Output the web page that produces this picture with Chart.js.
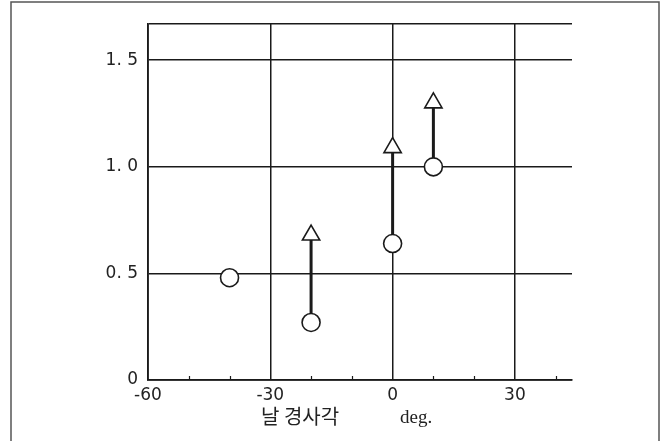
<!DOCTYPE html>
<html>
<head>
<meta charset="utf-8">
<script src="https://cdn.jsdelivr.net/npm/chart.js@4/dist/chart.umd.min.js"></script>
<style>
  html, body { margin: 0; padding: 0; background: #fff; }
  canvas { display: block; }
</style>
</head>
<body>
<canvas id="c" width="666" height="441"></canvas>
<script>
// Blade inclination angle (deg) and measured values
const angles = [-40, -20, 0, 10];
const circleValues = [0.48, 0.27, 0.64, 1.0];
const triangleAngles = [-20, 0, 10];
const triangleValues = [0.68, 1.09, 1.30];

// Axis tick labels
const xTickLabels = { '-60': '-60', '-30': '-30', '0': '0', '30': '30' };
const yTickLabels = { '0': '0', '0.5': '0. 5', '1': '1. 0', '1.5': '1. 5' };

const xTitle = '날 경사각';
const xUnit = 'deg.';

const ink = '#1a1a1a';

// Vertical connectors from each circle up to its triangle
const connectorSets = triangleAngles.map((a, i) => {
  const ci = angles.indexOf(a);
  return {
    type: 'line',
    data: [{ x: a, y: circleValues[ci] }, { x: a, y: triangleValues[i] }],
    borderColor: ink,
    borderWidth: 3,
    pointRadius: 0,
    fill: false,
    order: 3
  };
});

const framePlugin = {
  id: 'frameAndLabels',
  beforeDraw(chart) {
    const ctx = chart.ctx;
    ctx.save();
    ctx.fillStyle = '#fff';
    ctx.fillRect(0, 0, chart.width, chart.height);
    // outer frame (open at the bottom)
    ctx.strokeStyle = '#555';
    ctx.lineWidth = 1.5;
    ctx.beginPath();
    ctx.moveTo(11, chart.height);
    ctx.lineTo(11, 2);
    ctx.lineTo(659, 2);
    ctx.lineTo(659, chart.height);
    ctx.stroke();
    ctx.restore();
  },
  afterDraw(chart) {
    const ctx = chart.ctx;
    const xs = chart.scales.x;
    const ca = chart.chartArea;
    ctx.save();
    // short inward tick marks every 10 deg
    ctx.strokeStyle = ink;
    ctx.lineWidth = 1.2;
    for (let v = -50; v <= 40; v += 10) {
      if (v % 30 === 0) continue;
      const px = Math.round(xs.getPixelForValue(v)) + 0.5;
      ctx.beginPath();
      ctx.moveTo(px, ca.bottom);
      ctx.lineTo(px, ca.bottom - 4);
      ctx.stroke();
    }
    // axis title and unit
    ctx.fillStyle = '#222';
    ctx.textBaseline = 'middle';
    ctx.textAlign = 'left';
    ctx.font = '20px "Noto Sans CJK KR", sans-serif';
    ctx.fillText(xTitle, 261, 416);
    ctx.font = '19px "Liberation Serif", serif';
    ctx.fillText(xUnit, 400, 418);
    ctx.restore();
  }
};

new Chart(document.getElementById('c'), {
  type: 'scatter',
  data: {
    datasets: [
      {
        label: 'triangle',
        data: triangleAngles.map((a, i) => ({ x: a, y: triangleValues[i] })),
        pointStyle: 'triangle',
        pointRadius: 10,
        pointBackgroundColor: '#fff',
        pointBorderColor: ink,
        pointBorderWidth: 1.6,
        order: 1
      },
      {
        label: 'circle',
        data: angles.map((a, i) => ({ x: a, y: circleValues[i] })),
        pointStyle: 'circle',
        pointRadius: 9,
        pointBackgroundColor: '#fff',
        pointBorderColor: ink,
        pointBorderWidth: 1.6,
        order: 2
      },
      ...connectorSets
    ]
  },
  options: {
    responsive: false,
    animation: false,
    devicePixelRatio: 1,
    layout: { padding: { left: 0, top: 24, right: 94, bottom: 0 } },
    plugins: { legend: { display: false }, tooltip: { enabled: false } },
    scales: {
      x: {
        type: 'linear',
        min: -60,
        max: 44,
        afterFit(s) { s.height = 61; },
        ticks: {
          stepSize: 10,
          autoSkip: false,
          maxRotation: 0,
          padding: 5,
          color: '#222',
          font: { family: '"DejaVu Sans", sans-serif', size: 17 },
          callback: v => xTickLabels[String(v)] || ''
        },
        grid: {
          color: c => (c.tick && c.tick.value % 30 === 0) ? ink : 'rgba(0,0,0,0)',
          lineWidth: 1.5,
          drawTicks: false
        },
        border: { color: ink, width: 1.8 }
      },
      y: {
        type: 'linear',
        min: 0,
        max: 1.67,
        afterFit(s) { s.width = 148; },
        ticks: {
          stepSize: 0.5,
          padding: 10,
          color: '#222',
          font: { family: '"DejaVu Sans", sans-serif', size: 17 },
          callback: v => yTickLabels[String(v)] || ''
        },
        grid: {
          color: ink,
          lineWidth: 1.5,
          drawTicks: false
        },
        border: { color: ink, width: 1.8 }
      }
    }
  },
  plugins: [framePlugin]
});
</script>
</body>
</html>
